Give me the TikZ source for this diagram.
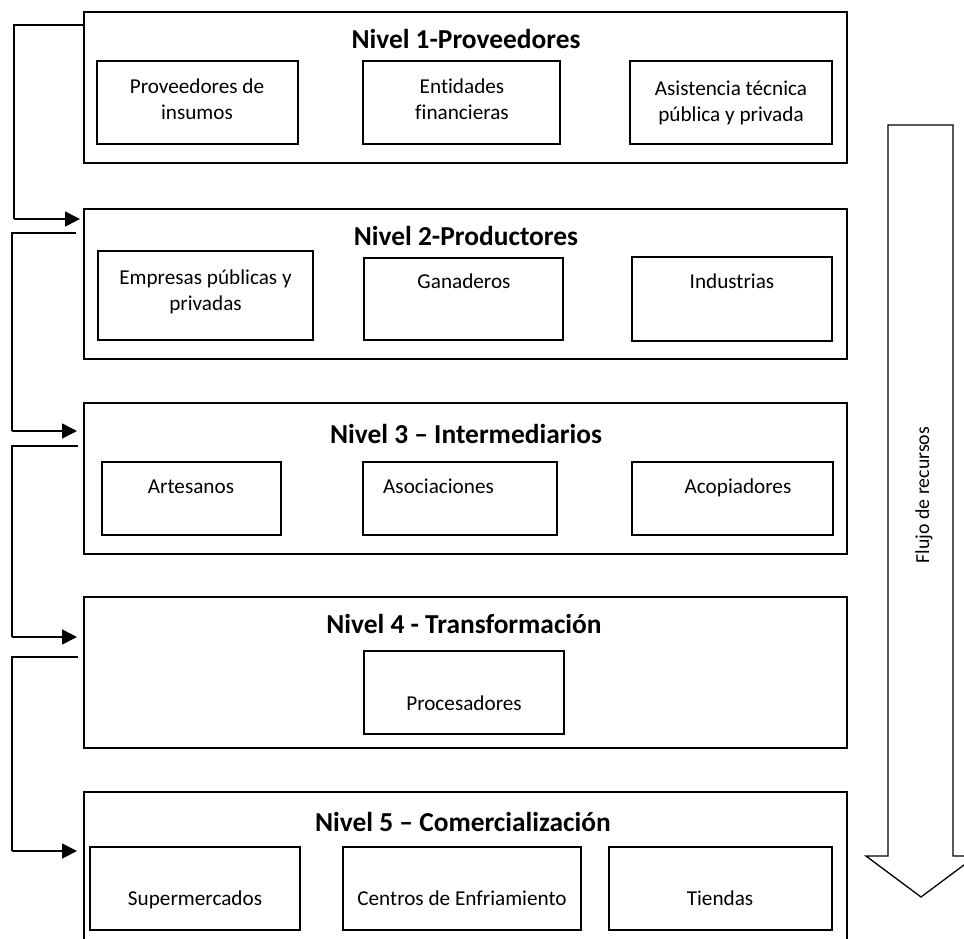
\documentclass[tikz,border=0pt]{standalone}
\usepackage{fontspec}
\setmainfont{Carlito}[Ligatures={NoCommon}]
\usetikzlibrary{arrows.meta}
\begin{document}
\begin{tikzpicture}[x=1pt,y=-1pt,
  outerbox/.style={draw, line width=1.3pt, anchor=north west, inner sep=0pt, outer sep=0pt},
  innerbox/.style={draw, line width=1.2pt, anchor=north west, inner sep=0pt, outer sep=0pt},
  heading/.style={font=\fontsize{27.4}{30}\selectfont\bfseries, anchor=base, inner sep=0pt},
  label/.style={font=\fontsize{21.2}{26}\selectfont, anchor=base, inner sep=0pt, align=center},
  conn/.style={line width=1.3pt},
  arr/.style={line width=1.6pt, -{Triangle[length=15pt,width=15pt]}}
]
\useasboundingbox (0,0) rectangle (964,938);

% ---- outer level boxes
\node[outerbox, minimum width=763pt, minimum height=151pt] (L1) at (84,12) {};
\node[outerbox, minimum width=763pt, minimum height=150pt] (L2) at (84,209) {};
\node[outerbox, minimum width=763pt, minimum height=151pt] (L3) at (84,403) {};
\node[outerbox, minimum width=763pt, minimum height=151pt] (L4) at (84,597) {};
\node[outerbox, minimum width=763pt, minimum height=160pt] (L5) at (84,792) {};

% ---- headings
\node[heading] (H1) at (466,48) {Nivel 1-Proveedores};
\node[heading] (H2) at (466,245) {Nivel 2-Productores};
\node[heading] (H3) at (466,443) {Nivel 3 – Intermediarios};
\node[heading] (H4) at (464,633) {Nivel 4 - Transformación};
\node[heading] (H5) at (463,831) {Nivel 5 – Comercialización};

% ---- level 1
\node[innerbox, minimum width=201pt, minimum height=83pt] (B11) at (97,61) {};
\node[innerbox, minimum width=197pt, minimum height=83pt] (B12) at (363,61) {};
\node[innerbox, minimum width=202pt, minimum height=83pt] (B13) at (630,61) {};
\node[label] (T11) at (197,119) {Proveedores de\\insumos};
\node[label] (T12) at (462,119) {Entidades\\financieras};
\node[label] (T13) at (731,121) {Asistencia técnica\\pública y privada};

% ---- level 2
\node[innerbox, minimum width=215pt, minimum height=89pt] (B21) at (98,251) {};
\node[innerbox, minimum width=199pt, minimum height=82pt] (B22) at (364,258) {};
\node[innerbox, minimum width=200pt, minimum height=84pt] (B23) at (632,257) {};
\node[label] (T21) at (205.5,310) {Empresas públicas y\\privadas};
\node[label] (T22) at (464,288) {Ganaderos};
\node[label] (T23) at (732,288) {Industrias};

% ---- level 3
\node[innerbox, minimum width=179pt, minimum height=73pt] (B31) at (102,462) {};
\node[innerbox, minimum width=194pt, minimum height=73pt] (B32) at (363,462) {};
\node[innerbox, minimum width=201pt, minimum height=73pt] (B33) at (632,462) {};
\node[label] (T31) at (191,493) {Artesanos};
\node[label, anchor=base west] (T32) at (383,493) {Asociaciones};
\node[label] (T33) at (738,493) {Acopiadores};

% ---- level 4
\node[innerbox, minimum width=200pt, minimum height=83pt] (B41) at (364,651) {};
\node[label] (T41) at (464,710) {Procesadores};

% ---- level 5
\node[innerbox, minimum width=210pt, minimum height=83pt] (B51) at (90,847) {};
\node[innerbox, minimum width=238pt, minimum height=83pt] (B52) at (343,847) {};
\node[innerbox, minimum width=223pt, minimum height=83pt] (B53) at (609,847) {};
\node[label] (T51) at (195,905) {Supermercados};
\node[label] (T52) at (462,905) {Centros de Enfriamiento};
\node[label] (T53) at (720,905) {Tiendas};

% ---- left connectors
\coordinate (s2) at (76,233);
\coordinate (s3) at (78,446);
\coordinate (s4) at (78,657);
\draw[conn] (L1.west |- 0,25) -- (14,25) -- (14,219);
\draw[arr] (14,219) -- ([xshift=-4pt]L2.west |- 0,219);
\draw[conn] (s2) -- (12,233) -- (12,431);
\draw[arr] (12,431) -- ([xshift=-7pt]L3.west |- 0,431);
\draw[conn] (s3) -- (12,446) -- (12,637);
\draw[arr] (12,637) -- ([xshift=-7pt]L4.west |- 0,637);
\draw[conn] (s4) -- (12,657) -- (12,851);
\draw[arr] (12,851) -- ([xshift=-7pt]L5.west |- 0,851);

% ---- big flow arrow
\draw[line width=1.3pt, line join=miter] (888,125) -- (953,125) -- (953,856) -- (976,856) -- (921,897) -- (866,856) -- (888,856) -- cycle;
\node[font=\fontsize{19.8}{24}\selectfont, rotate=90, inner sep=0pt] (F) at (924,495) {Flujo de recursos};
\end{tikzpicture}
\end{document}
